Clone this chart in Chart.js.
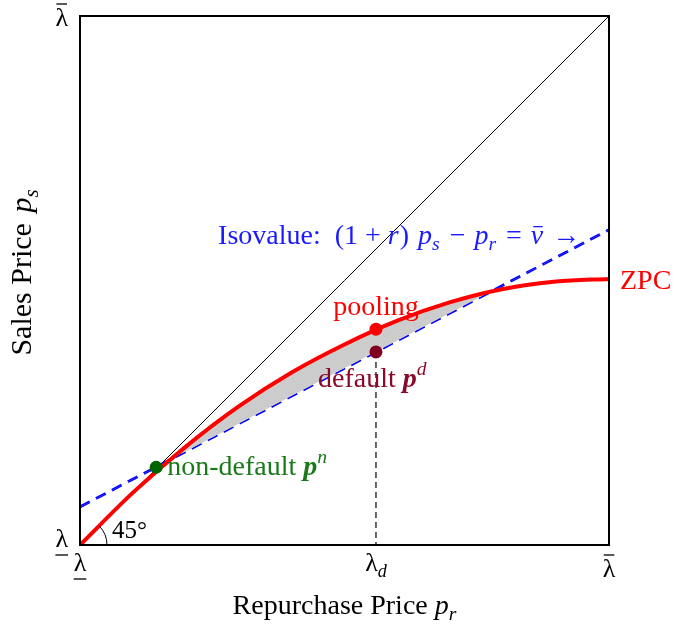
<!doctype html>
<html lang="en">
<head>
<meta charset="utf-8">
<title>ZPC</title>
<style>html,body{margin:0;padding:0;background:#fff}</style>
</head>
<body>
<script src="https://cdn.jsdelivr.net/npm/chart.js@4/dist/chart.umd.min.js"></script>
<div style="width:675px;height:626px"><canvas id="myChart"></canvas></div>
<script>
// values, axes run from lambda-low (0) to lambda-bar (1)
var zpcX = [0, 0.1, 0.2, 0.3, 0.4, 0.5, 0.6, 0.7, 0.8, 0.9, 1];
var zpcY = [0, 0.099, 0.186, 0.262, 0.326, 0.379, 0.424, 0.459, 0.484, 0.498, 0.503];
var isoX = [0, 1];
var isoY = [0.072, 0.596];
var diagX = [0, 1];
var diagY = [0, 1];
var nonDefaultPt = [0.144, 0.147];
var poolingPt = [0.5595, 0.408];
var defaultPt = [0.5595, 0.365];
var xTicks = [0, 0.5595, 1];
var xTickLabels = ['λ', 'λ', 'λ'];
var xTickMarks = ['under', 'd', 'over'];
var yTicks = [0, 1];
var yTickLabels = ['λ', 'λ'];
var yTickMarks = ['under', 'over'];

function pts(xs, ys) {
	var out = [];
	for (var i = 0; i < xs.length; i++) out.push({x: xs[i], y: ys[i]});
	return out;
}

var FF = '"Liberation Serif", "DejaVu Serif", serif';

function fontOf(style, size) {
	if (style == 'i') return 'italic ' + size + 'px ' + FF;
	if (style == 'bi') return 'italic bold ' + size + 'px ' + FF;
	return size + 'px ' + FF;
}

// draw a run of text parts (plain / italic / sub / sup) starting at x
function drawRich(ctx, x, y, parts, size, color, align) {
	var w = 0, i, p, sz;
	for (i = 0; i < parts.length; i++) {
		p = parts[i];
		sz = p.pos ? size * 0.7 : size;
		ctx.font = fontOf(p.s, sz);
		p._w = ctx.measureText(p.t).width;
		w += p._w + (p.gap || 0);
	}
	if (align == 'center') x -= w / 2;
	if (align == 'right') x -= w;
	ctx.fillStyle = color;
	ctx.strokeStyle = color;
	ctx.textBaseline = 'alphabetic';
	ctx.textAlign = 'left';
	for (i = 0; i < parts.length; i++) {
		p = parts[i];
		sz = p.pos ? size * 0.7 : size;
		ctx.font = fontOf(p.s, sz);
		var dy = p.pos == 'sub' ? size * 0.22 : (p.pos == 'sup' ? -size * 0.42 : 0);
		ctx.fillText(p.t, x, y + dy);
		if (p.bar) {
			ctx.lineWidth = 1.3;
			ctx.beginPath();
			ctx.moveTo(x + p._w * 0.2, y - size * 0.62);
			ctx.lineTo(x + p._w * 0.95, y - size * 0.62);
			ctx.stroke();
		}
		x += p._w + (p.gap || 0);
	}
}

function lambda(ctx, x, y, mark, align) {
	var size = 26;
	ctx.font = fontOf('r', size);
	var w = ctx.measureText('λ').width;
	var parts = [{t: 'λ'}];
	if (mark == 'd') parts.push({t: 'd', s: 'i', pos: 'sub'});
	ctx.font = fontOf('i', size * 0.7);
	var total = w + (mark == 'd' ? ctx.measureText('d').width : 0);
	var left = align == 'right' ? x - total : x - total / 2;
	drawRich(ctx, left, y, parts, size, '#000', 'left');
	ctx.strokeStyle = '#000';
	ctx.lineWidth = 1.3;
	if (mark == 'under') {
		ctx.beginPath(); ctx.moveTo(left, y + 8); ctx.lineTo(left + w, y + 8); ctx.stroke();
	}
	if (mark == 'over') {
		ctx.beginPath(); ctx.moveTo(left + 1, y - 22); ctx.lineTo(left + w - 1, y - 22); ctx.stroke();
	}
}

var decor = {
	id: 'decor',
	afterDatasetsDraw: function(chart) {
		var ctx = chart.ctx, a = chart.chartArea;
		var xs = chart.scales.x, ys = chart.scales.y;
		ctx.save();
		// frame
		ctx.strokeStyle = '#000';
		ctx.lineWidth = 2;
		ctx.strokeRect(a.left, a.top, a.right - a.left, a.bottom - a.top);
		// 45 degree arc
		ctx.lineWidth = 1;
		ctx.beginPath();
		ctx.arc(xs.getPixelForValue(0), ys.getPixelForValue(0), 27, -Math.PI / 4, 0);
		ctx.stroke();
		drawRich(ctx, a.left + 32, a.bottom - 7, [{t: '45°'}], 25, '#000', 'left');

		// tick labels
		for (var i = 0; i < xTicks.length; i++) {
			var by = xTickMarks[i] == 'over' ? a.bottom + 32 : a.bottom + 26;
			lambda(ctx, xs.getPixelForValue(xTicks[i]), by, xTickMarks[i], 'center');
		}
		for (var j = 0; j < yTicks.length; j++) {
			var py = ys.getPixelForValue(yTicks[j]);
			lambda(ctx, a.left - 12, yTickMarks[j] == 'over' ? py + 10 : py + 2, yTickMarks[j], 'right');
		}

		// axis titles
		drawRich(ctx, (a.left + a.right) / 2, 614,
			[{t: 'Repurchase Price '}, {t: 'p', s: 'i'}, {t: 'r', s: 'i', pos: 'sub'}], 28, '#000', 'center');
		ctx.save();
		ctx.translate(31, (a.top + a.bottom) / 2 - 8);
		ctx.rotate(-Math.PI / 2);
		drawRich(ctx, 0, 0,
			[{t: 'Sales Price ', gap: 3}, {t: 'p', s: 'i'}, {t: 's', s: 'i', pos: 'sub'}], 30, '#000', 'center');
		ctx.restore();

		// annotations
		drawRich(ctx, xs.getPixelForValue(0.261), 244,
			[{t: 'Isovalue:  (1 + '}, {t: 'r', s: 'i', gap: 1}, {t: ') ', gap: 2}, {t: 'p', s: 'i'}, {t: 's', s: 'i', pos: 'sub', gap: 3},
			 {t: ' − ', gap: 2}, {t: 'p', s: 'i'}, {t: 'r', s: 'i', pos: 'sub', gap: 3}, {t: ' = ', gap: 2}, {t: 'v', s: 'i', bar: true, gap: 2}, {t: ' →'}],
			28, '#1a1aff', 'left');
		drawRich(ctx, a.right + 11, ys.getPixelForValue(zpcY[zpcY.length - 1]) + 10, [{t: 'ZPC'}], 28, '#ff0000', 'left');
		drawRich(ctx, xs.getPixelForValue(poolingPt[0]), ys.getPixelForValue(poolingPt[1]) - 14,
			[{t: 'pooling'}], 28, '#ff0000', 'center');
		drawRich(ctx, xs.getPixelForValue(defaultPt[0]) - 58, ys.getPixelForValue(defaultPt[1]) + 35,
			[{t: 'default '}, {t: 'p', s: 'bi'}, {t: 'd', s: 'i', pos: 'sup'}], 28, '#8a0a2a', 'left');
		drawRich(ctx, xs.getPixelForValue(nonDefaultPt[0]) + 11, ys.getPixelForValue(nonDefaultPt[1]) + 8,
			[{t: 'non-default '}, {t: 'p', s: 'bi'}, {t: 'n', s: 'i', pos: 'sup'}], 28, '#1a7a1a', 'left');
		ctx.restore();
	}
};

var ctx = document.getElementById('myChart');
var myChart = new Chart(ctx, {
	type: 'scatter',
	data: {
		datasets: [
			{ label: 'non-default', data: pts([nonDefaultPt[0]], [nonDefaultPt[1]]), pointRadius: 6.5, pointBackgroundColor: '#006400', pointBorderWidth: 0 },
			{ label: 'pooling', data: pts([poolingPt[0]], [poolingPt[1]]), pointRadius: 6.5, pointBackgroundColor: '#ff0000', pointBorderWidth: 0 },
			{ label: 'default', data: pts([defaultPt[0]], [defaultPt[1]]), pointRadius: 6.5, pointBackgroundColor: '#800020', pointBorderWidth: 0 },
			{ label: 'ZPC', data: pts(zpcX, zpcY), showLine: true, borderColor: '#ff0000', borderWidth: 4, pointRadius: 0,
				cubicInterpolationMode: 'monotone', fill: {target: 4, above: '#cccccc', below: 'rgba(0,0,0,0)'} },
			{ label: 'Isovalue', data: pts(isoX, isoY), showLine: true, borderColor: '#0000ff', borderWidth: 2.8, borderDash: [11, 7], pointRadius: 0 },
			{ label: 'dropline', data: pts([defaultPt[0], defaultPt[0]], [defaultPt[1], 0]), showLine: true, borderColor: '#000', borderWidth: 1.2, borderDash: [6, 4], pointRadius: 0 },
			{ label: '45 line', data: pts(diagX, diagY), showLine: true, borderColor: '#000', borderWidth: 1, pointRadius: 0 }
		]
	},
	options: {
		responsive: true,
		maintainAspectRatio: false,
		animation: false,
		layout: { padding: { top: 16, right: 66, left: 0, bottom: 0 } },
		plugins: { legend: { display: false }, tooltip: { enabled: false } },
		scales: {
			x: { min: 0, max: 1, grid: { display: false }, border: { display: false }, ticks: { display: false },
				afterFit: function(s) { s.height = 81; } },
			y: { min: 0, max: 1, grid: { display: false }, border: { display: false }, ticks: { display: false },
				afterFit: function(s) { s.width = 80; } }
		}
	},
	plugins: [decor]
});
</script>
</body>
</html>
